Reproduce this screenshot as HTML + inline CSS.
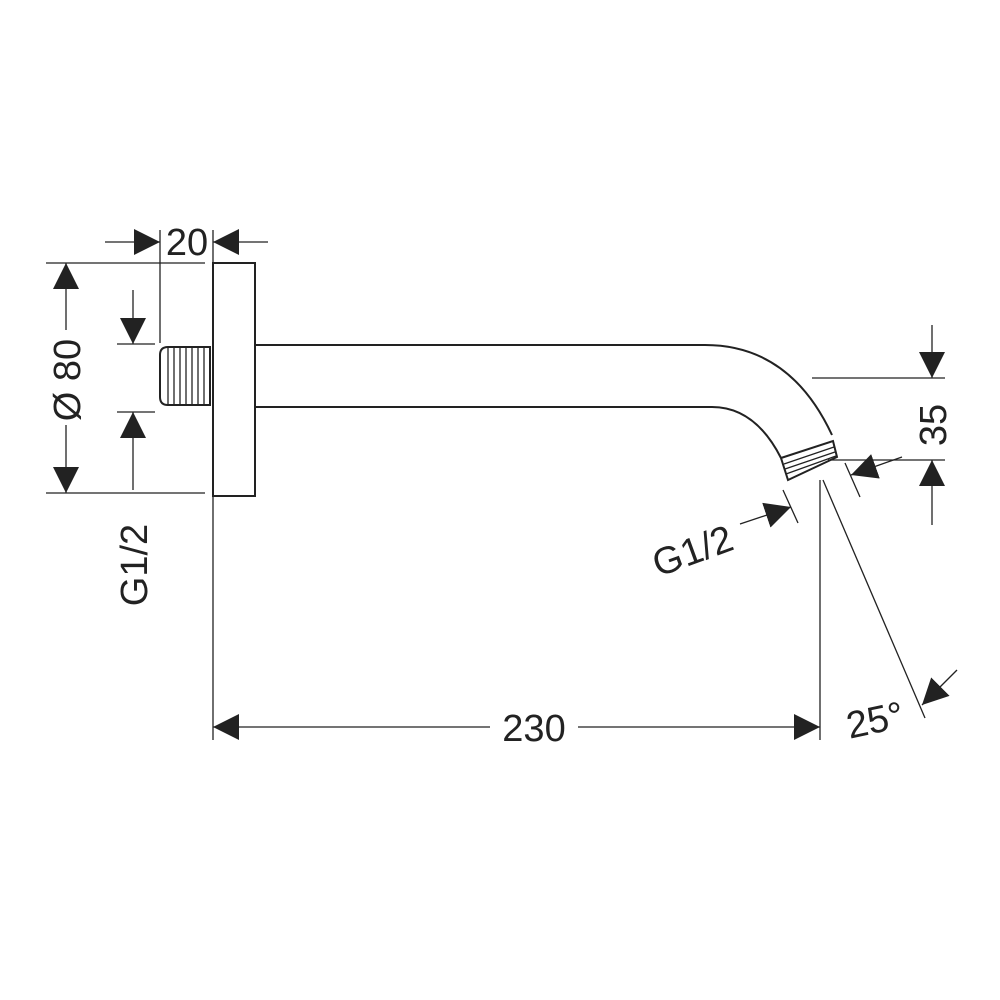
<!DOCTYPE html>
<html><head><style>body{margin:0;background:#fff}svg{display:block}</style></head><body>
<svg width="1000" height="1000" viewBox="0 0 1000 1000" xmlns="http://www.w3.org/2000/svg" font-family="Liberation Sans, DejaVu Sans, sans-serif" fill="none" stroke="#222">
<defs>
<marker id="a" viewBox="0 0 10 10" refX="10" refY="5" markerWidth="26" markerHeight="26" markerUnits="userSpaceOnUse" orient="auto"><path d="M0,0 L10,5 L0,10 Z" fill="#222" stroke="none"/></marker>
</defs>
<g stroke-width="1.3">
<!-- 20 dim -->
<line x1="160" y1="230" x2="160" y2="343"/>
<line x1="213" y1="230" x2="213" y2="740"/>
<line x1="105" y1="242" x2="160" y2="242" marker-end="url(#a)"/>
<line x1="268" y1="242" x2="213" y2="242" marker-end="url(#a)"/>
<!-- Ø80 -->
<line x1="46" y1="263" x2="205" y2="263"/>
<line x1="46" y1="493" x2="205" y2="493"/>
<line x1="66" y1="330" x2="66" y2="263" marker-end="url(#a)"/>
<line x1="66" y1="425" x2="66" y2="493" marker-end="url(#a)"/>
<!-- G1/2 left -->
<line x1="117" y1="344" x2="155" y2="344"/>
<line x1="117" y1="412" x2="155" y2="412"/>
<line x1="133" y1="290" x2="133" y2="344" marker-end="url(#a)"/>
<line x1="133" y1="490" x2="133" y2="412" marker-end="url(#a)"/>
<!-- 35 -->
<line x1="812" y1="378" x2="945" y2="378"/>
<line x1="828" y1="460" x2="945" y2="460"/>
<line x1="932" y1="325" x2="932" y2="378" marker-end="url(#a)"/>
<line x1="932" y1="525" x2="932" y2="460" marker-end="url(#a)"/>
<!-- G1/2 right ticks -->
<line x1="783" y1="490" x2="798" y2="523"/>
<line x1="740" y1="524" x2="791" y2="507" marker-end="url(#a)"/>
<line x1="845" y1="463" x2="860" y2="497"/>
<line x1="902" y1="457" x2="851" y2="475" marker-end="url(#a)"/>
<!-- 230 -->
<line x1="820" y1="480" x2="820" y2="740"/>
<line x1="490" y1="727" x2="213" y2="727" marker-end="url(#a)"/>
<line x1="578" y1="727" x2="820" y2="727" marker-end="url(#a)"/>
<!-- 25° -->
<line x1="823" y1="480" x2="925" y2="718"/>
<line x1="957" y1="670" x2="922" y2="705" marker-end="url(#a)"/>
</g>
<g stroke-width="2">
<rect x="213" y="263" width="42" height="233"/>
<path d="M255,345 L705,345 Q790,345 832,435"/>
<path d="M255,407 L712,407 Q755,407 781,458"/>
<path d="M781,458 L833,441 L837,457 L788,480 Z"/>
<path d="M210,347 L168,347 Q160,347 160,355 L160,397 Q160,405 168,405 L210,405 Z"/>
</g>
<g stroke-width="1.3">
<line x1="784" y1="464" x2="834" y2="447"/>
<line x1="785" y1="469" x2="835" y2="452"/>
<line x1="786" y1="474" x2="836" y2="456"/>
<line x1="168" y1="348" x2="168" y2="404"/><line x1="174" y1="348" x2="174" y2="404"/>
<line x1="180" y1="348" x2="180" y2="404"/><line x1="186" y1="348" x2="186" y2="404"/>
<line x1="192" y1="348" x2="192" y2="404"/><line x1="198" y1="348" x2="198" y2="404"/>
<line x1="204" y1="348" x2="204" y2="404"/>
</g>
<g fill="#222" stroke="none" font-size="38">
<text x="187" y="255" text-anchor="middle">20</text>
<text x="534" y="741" text-anchor="middle">230</text>
<text transform="translate(80,380) rotate(-90)" text-anchor="middle">Ø 80</text>
<text transform="translate(147,565) rotate(-90)" text-anchor="middle">G1/2</text>
<text transform="translate(946,425) rotate(-90)" text-anchor="middle">35</text>
<text transform="translate(697,563) rotate(-20)" text-anchor="middle">G1/2</text>
<text x="875" y="733" text-anchor="middle" transform="rotate(-12 875 720)">25°</text>
</g>
</svg>
</body></html>
